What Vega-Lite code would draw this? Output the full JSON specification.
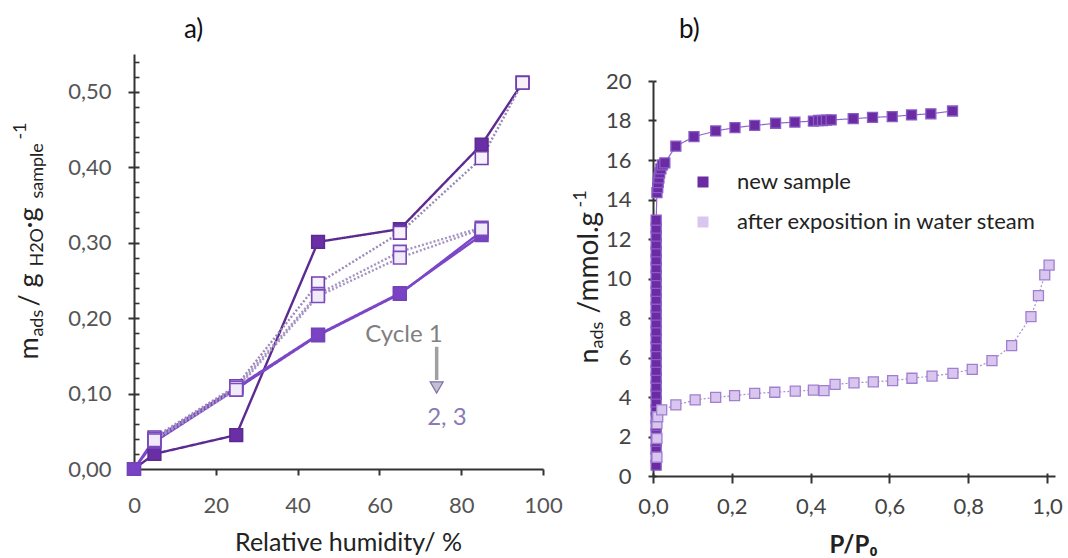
{
  "$schema": "https://vega.github.io/schema/vega-lite/v6.json",
  "autosize": {"type": "none"},
  "padding": {"left": 134, "top": 54, "right": 0, "bottom": 82},
  "width": 934,
  "height": 422,
  "background": "white",
  "config": {
    "view": {"stroke": null},
    "font": "Lato",
    "axis": {"labelFlush": false},
    "locale": {"number": {"decimal": ",", "thousands": ".", "grouping": [3], "currency": ["", " €"]}}
  },
  "datasets": {
    "a": [
      {"rh": 0, "m": 0, "s": "c1a", "t": "ads"},
      {"rh": 5, "m": 0.02, "s": "c1a", "t": "ads"},
      {"rh": 25, "m": 0.045, "s": "c1a", "t": "ads"},
      {"rh": 45, "m": 0.301, "s": "c1a", "t": "ads"},
      {"rh": 65, "m": 0.318, "s": "c1a", "t": "ads"},
      {"rh": 85, "m": 0.43, "s": "c1a", "t": "ads"},
      {"rh": 95, "m": 0.512, "s": "c1a", "t": "ads"},
      {"rh": 0, "m": 0, "s": "c2a", "t": "ads"},
      {"rh": 5, "m": 0.036, "s": "c2a", "t": "ads"},
      {"rh": 25, "m": 0.106, "s": "c2a", "t": "ads"},
      {"rh": 45, "m": 0.177, "s": "c2a", "t": "ads"},
      {"rh": 65, "m": 0.232, "s": "c2a", "t": "ads"},
      {"rh": 85, "m": 0.315, "s": "c2a", "t": "ads"},
      {"rh": 0, "m": 0, "s": "c3a", "t": "ads"},
      {"rh": 5, "m": 0.04, "s": "c3a", "t": "ads"},
      {"rh": 25, "m": 0.108, "s": "c3a", "t": "ads"},
      {"rh": 45, "m": 0.178, "s": "c3a", "t": "ads"},
      {"rh": 65, "m": 0.233, "s": "c3a", "t": "ads"},
      {"rh": 85, "m": 0.31, "s": "c3a", "t": "ads"},
      {"rh": 95, "m": 0.512, "s": "c1d", "t": "des"},
      {"rh": 85, "m": 0.412, "s": "c1d", "t": "des"},
      {"rh": 65, "m": 0.313, "s": "c1d", "t": "des"},
      {"rh": 45, "m": 0.246, "s": "c1d", "t": "des"},
      {"rh": 25, "m": 0.11, "s": "c1d", "t": "des"},
      {"rh": 5, "m": 0.042, "s": "c1d", "t": "des"},
      {"rh": 85, "m": 0.32, "s": "c2d", "t": "des"},
      {"rh": 65, "m": 0.288, "s": "c2d", "t": "des"},
      {"rh": 45, "m": 0.232, "s": "c2d", "t": "des"},
      {"rh": 25, "m": 0.108, "s": "c2d", "t": "des"},
      {"rh": 5, "m": 0.04, "s": "c2d", "t": "des"},
      {"rh": 85, "m": 0.318, "s": "c3d", "t": "des"},
      {"rh": 65, "m": 0.28, "s": "c3d", "t": "des"},
      {"rh": 45, "m": 0.229, "s": "c3d", "t": "des"},
      {"rh": 25, "m": 0.105, "s": "c3d", "t": "des"},
      {"rh": 5, "m": 0.038, "s": "c3d", "t": "des"}
    ],
    "b": [
      {"i": 1, "p": 0.008, "n": 0.55, "s": "new sample"},
      {"i": 2, "p": 0.008, "n": 0.95, "s": "new sample"},
      {"i": 3, "p": 0.008, "n": 1.35, "s": "new sample"},
      {"i": 4, "p": 0.008, "n": 1.75, "s": "new sample"},
      {"i": 5, "p": 0.008, "n": 2.15, "s": "new sample"},
      {"i": 6, "p": 0.008, "n": 2.55, "s": "new sample"},
      {"i": 7, "p": 0.008, "n": 2.95, "s": "new sample"},
      {"i": 8, "p": 0.008, "n": 3.35, "s": "new sample"},
      {"i": 9, "p": 0.008, "n": 3.75, "s": "new sample"},
      {"i": 10, "p": 0.008, "n": 4.15, "s": "new sample"},
      {"i": 11, "p": 0.008, "n": 4.55, "s": "new sample"},
      {"i": 12, "p": 0.008, "n": 4.95, "s": "new sample"},
      {"i": 13, "p": 0.008, "n": 5.35, "s": "new sample"},
      {"i": 14, "p": 0.008, "n": 5.75, "s": "new sample"},
      {"i": 15, "p": 0.008, "n": 6.15, "s": "new sample"},
      {"i": 16, "p": 0.008, "n": 6.55, "s": "new sample"},
      {"i": 17, "p": 0.008, "n": 6.95, "s": "new sample"},
      {"i": 18, "p": 0.008, "n": 7.35, "s": "new sample"},
      {"i": 19, "p": 0.008, "n": 7.75, "s": "new sample"},
      {"i": 20, "p": 0.008, "n": 8.15, "s": "new sample"},
      {"i": 21, "p": 0.008, "n": 8.55, "s": "new sample"},
      {"i": 22, "p": 0.008, "n": 8.95, "s": "new sample"},
      {"i": 23, "p": 0.008, "n": 9.35, "s": "new sample"},
      {"i": 24, "p": 0.008, "n": 9.75, "s": "new sample"},
      {"i": 25, "p": 0.008, "n": 10.15, "s": "new sample"},
      {"i": 26, "p": 0.008, "n": 10.55, "s": "new sample"},
      {"i": 27, "p": 0.008, "n": 10.95, "s": "new sample"},
      {"i": 28, "p": 0.008, "n": 11.35, "s": "new sample"},
      {"i": 29, "p": 0.008, "n": 11.75, "s": "new sample"},
      {"i": 30, "p": 0.008, "n": 12.15, "s": "new sample"},
      {"i": 31, "p": 0.008, "n": 12.55, "s": "new sample"},
      {"i": 32, "p": 0.008, "n": 12.95, "s": "new sample"},
      {"i": 33, "p": 0.01, "n": 14.35, "s": "new sample"},
      {"i": 34, "p": 0.012, "n": 14.6, "s": "new sample"},
      {"i": 35, "p": 0.013, "n": 14.85, "s": "new sample"},
      {"i": 36, "p": 0.015, "n": 15.1, "s": "new sample"},
      {"i": 37, "p": 0.017, "n": 15.35, "s": "new sample"},
      {"i": 38, "p": 0.02, "n": 15.55, "s": "new sample"},
      {"i": 39, "p": 0.024, "n": 15.75, "s": "new sample"},
      {"i": 40, "p": 0.03, "n": 15.85, "s": "new sample"},
      {"i": 41, "p": 0.058, "n": 16.7, "s": "new sample"},
      {"i": 42, "p": 0.104, "n": 17.18, "s": "new sample"},
      {"i": 43, "p": 0.159, "n": 17.47, "s": "new sample"},
      {"i": 44, "p": 0.208, "n": 17.64, "s": "new sample"},
      {"i": 45, "p": 0.258, "n": 17.75, "s": "new sample"},
      {"i": 46, "p": 0.311, "n": 17.86, "s": "new sample"},
      {"i": 47, "p": 0.36, "n": 17.92, "s": "new sample"},
      {"i": 48, "p": 0.407, "n": 17.97, "s": "new sample"},
      {"i": 49, "p": 0.42, "n": 18.0, "s": "new sample"},
      {"i": 50, "p": 0.43, "n": 18.0, "s": "new sample"},
      {"i": 51, "p": 0.44, "n": 18.02, "s": "new sample"},
      {"i": 52, "p": 0.452, "n": 18.03, "s": "new sample"},
      {"i": 53, "p": 0.508, "n": 18.09, "s": "new sample"},
      {"i": 54, "p": 0.557, "n": 18.16, "s": "new sample"},
      {"i": 55, "p": 0.607, "n": 18.2, "s": "new sample"},
      {"i": 56, "p": 0.656, "n": 18.28, "s": "new sample"},
      {"i": 57, "p": 0.705, "n": 18.34, "s": "new sample"},
      {"i": 58, "p": 0.76, "n": 18.48, "s": "new sample"},
      {"i": 1, "p": 0.01, "n": 0.95, "s": "after exposition in water steam"},
      {"i": 2, "p": 0.01, "n": 1.9, "s": "after exposition in water steam"},
      {"i": 3, "p": 0.01, "n": 2.65, "s": "after exposition in water steam"},
      {"i": 4, "p": 0.012, "n": 3.0, "s": "after exposition in water steam"},
      {"i": 5, "p": 0.022, "n": 3.35, "s": "after exposition in water steam"},
      {"i": 6, "p": 0.058, "n": 3.6, "s": "after exposition in water steam"},
      {"i": 7, "p": 0.107, "n": 3.85, "s": "after exposition in water steam"},
      {"i": 8, "p": 0.159, "n": 3.98, "s": "after exposition in water steam"},
      {"i": 9, "p": 0.207, "n": 4.07, "s": "after exposition in water steam"},
      {"i": 10, "p": 0.258, "n": 4.18, "s": "after exposition in water steam"},
      {"i": 11, "p": 0.309, "n": 4.24, "s": "after exposition in water steam"},
      {"i": 12, "p": 0.361, "n": 4.3, "s": "after exposition in water steam"},
      {"i": 13, "p": 0.407, "n": 4.35, "s": "after exposition in water steam"},
      {"i": 14, "p": 0.434, "n": 4.32, "s": "after exposition in water steam"},
      {"i": 15, "p": 0.462, "n": 4.64, "s": "after exposition in water steam"},
      {"i": 16, "p": 0.51, "n": 4.72, "s": "after exposition in water steam"},
      {"i": 17, "p": 0.559, "n": 4.77, "s": "after exposition in water steam"},
      {"i": 18, "p": 0.608, "n": 4.83, "s": "after exposition in water steam"},
      {"i": 19, "p": 0.657, "n": 4.95, "s": "after exposition in water steam"},
      {"i": 20, "p": 0.708, "n": 5.06, "s": "after exposition in water steam"},
      {"i": 21, "p": 0.761, "n": 5.2, "s": "after exposition in water steam"},
      {"i": 22, "p": 0.81, "n": 5.4, "s": "after exposition in water steam"},
      {"i": 23, "p": 0.86, "n": 5.84, "s": "after exposition in water steam"},
      {"i": 24, "p": 0.91, "n": 6.6, "s": "after exposition in water steam"},
      {"i": 25, "p": 0.959, "n": 8.07, "s": "after exposition in water steam"},
      {"i": 26, "p": 0.978, "n": 9.13, "s": "after exposition in water steam"},
      {"i": 27, "p": 0.994, "n": 10.18, "s": "after exposition in water steam"},
      {"i": 28, "p": 1.005, "n": 10.68, "s": "after exposition in water steam"}
    ]
  },
  "resolve": {
    "scale": {"x": "independent", "y": "independent", "fill": "independent", "stroke": "independent", "strokeDash": "independent"},
    "axis": {"x": "independent", "y": "independent"},
    "legend": {"fill": "independent", "stroke": "independent"}
  },
  "layer": [
    {
      "resolve": {"axis": {"x": "independent", "y": "independent"}, "scale": {"stroke": "independent"}},
      "layer": [
        {
          "data": {"name": "a"},
          "mark": {"type": "line", "strokeWidth": 2.4},
          "encoding": {
            "x": {"field": "rh", "type": "quantitative", "scale": {"domain": [0, 100], "range": [0, 409], "nice": false, "zero": false},
              "axis": {"orient": "bottom", "offset": -7, "values": [0, 20, 40, 60, 80, 100], "format": "d", "tickSize": 6, "tickWidth": 2, "tickColor": "#333", "domainColor": "#333", "domainWidth": 2, "grid": false,
                "labelFont": "Lato", "labelFontSize": 22, "labelColor": "#555", "labelPadding": 20, "labelFlush": false,
                "title": "Relative humidity/ %", "titleFont": "Lato", "titleFontSize": 25, "titleFontWeight": "normal", "titleColor": "#222", "titleX": 214, "titleY": 81, "titleBaseline": "alphabetic", "titleAlign": "center"}},
            "y": {"field": "m", "type": "quantitative", "scale": {"domain": [0, 0.55], "range": [415, 0], "nice": false, "zero": false},
              "axis": {"orient": "left", "values": [0, 0.1, 0.2, 0.3, 0.4, 0.5], "format": ".2f", "tickSize": 6, "tickWidth": 2, "tickColor": "#333", "domainColor": "#333", "domainWidth": 2, "grid": false,
                "labelFont": "Lato", "labelFontSize": 22, "labelColor": "#555", "labelPadding": 17, "labelFlush": false, "title": null}},
            "stroke": {"field": "s", "type": "nominal", "legend": null,
              "scale": {"domain": ["c1a", "c2a", "c3a", "c1d", "c2d", "c3d"], "range": ["#5c2a91", "#7b46c7", "#7b46c7", "#9a88b8", "#a594c2", "#a594c2"]}},
            "strokeDash": {"field": "t", "type": "nominal", "legend": null,
              "scale": {"domain": ["ads", "des"], "range": [[1, 0], [2, 2]]}}
          }
        },
        {
          "data": {"name": "a"},
          "mark": {"type": "point", "shape": "square", "filled": true, "size": 160, "strokeWidth": 1.6, "opacity": 1},
          "encoding": {
            "x": {"field": "rh", "type": "quantitative", "axis": null},
            "y": {"field": "m", "type": "quantitative",
              "axis": {"orient": "left", "values": [0, 0.1, 0.2, 0.3, 0.4, 0.5], "tickSize": -5, "tickWidth": 2, "tickColor": "#333", "labels": false, "domain": false, "grid": false, "title": null}},
            "fill": {"field": "s", "type": "nominal", "legend": null,
              "scale": {"domain": ["c1a", "c2a", "c3a", "c1d", "c2d", "c3d"], "range": ["#6a2fa6", "#7a42c4", "#7a42c4", "#f6f1fb", "#f1eaf8", "#f1eaf8"]}},
            "stroke": {"field": "s", "type": "nominal", "legend": null,
              "scale": {"domain": ["c1a", "c2a", "c3a", "c1d", "c2d", "c3d"], "range": ["#5c2a91", "#7344b8", "#7344b8", "#7040b0", "#7a4bbd", "#7a4bbd"]}}
          }
        },
        {
          "data": {"values": [{}]},
          "mark": {"type": "text", "font": "Lato", "fontSize": 24, "color": "#808080", "align": "center", "baseline": "middle"},
          "encoding": {
            "x": {"datum": 66, "type": "quantitative", "axis": null},
            "y": {"datum": 0.178, "type": "quantitative",
              "axis": {"orient": "left", "values": [0.02, 0.04, 0.06, 0.08, 0.12, 0.14, 0.16, 0.18, 0.22, 0.24, 0.26, 0.28, 0.32, 0.34, 0.36, 0.38, 0.42, 0.44, 0.46, 0.48, 0.52, 0.54], "tickSize": -5, "tickWidth": 1.6, "tickColor": "#333", "labels": false, "domain": false, "grid": false, "title": null}},
            "text": {"value": "Cycle 1"}
          }
        },
        {
          "data": {"values": [{}]},
          "mark": {"type": "text", "font": "Lato", "fontSize": 24, "color": "#8a7ab8", "align": "center", "baseline": "middle"},
          "encoding": {
            "x": {"datum": 76.5, "type": "quantitative", "axis": null},
            "y": {"datum": 0.068, "type": "quantitative", "axis": null},
            "text": {"value": "2, 3"}
          }
        },
        {
          "data": {"values": [{}]},
          "mark": {"type": "rule", "strokeWidth": 3.5, "color": "#a0a0a0"},
          "encoding": {
            "x": {"datum": 74, "type": "quantitative", "axis": null},
            "y": {"datum": 0.162, "type": "quantitative", "axis": null},
            "y2": {"datum": 0.118}
          }
        },
        {
          "data": {"values": [{}]},
          "mark": {"type": "point", "shape": "triangle-down", "filled": true, "size": 170, "fill": "#c4c0d0", "stroke": "#7f6fae", "strokeWidth": 1.2, "opacity": 1},
          "encoding": {
            "x": {"datum": 74, "type": "quantitative", "axis": null},
            "y": {"datum": 0.108, "type": "quantitative", "axis": null}
          }
        },
        {"data": {"values": [{}]}, "mark": {"type": "text", "align": "left", "baseline": "alphabetic", "font": "Lato", "fontSize": 26, "color": "#111"},
          "encoding": {"x": {"datum": 12.2, "type": "quantitative", "axis": null}, "y": {"datum": 0.571, "type": "quantitative", "axis": null}, "text": {"value": "a)"}}},
        {"data": {"values": [{}]}, "mark": {"type": "text", "angle": 270, "align": "left", "baseline": "alphabetic", "font": "Lato", "fontSize": 27, "color": "#222", "dx": 0, "dy": 0},
          "encoding": {"x": {"datum": -23.5, "type": "quantitative", "axis": null}, "y": {"datum": 0.145, "type": "quantitative", "axis": null}, "text": {"value": "m"}}},
        {"data": {"values": [{}]}, "mark": {"type": "text", "angle": 270, "align": "left", "baseline": "alphabetic", "font": "Lato", "fontSize": 18, "color": "#222", "dx": 23, "dy": 5},
          "encoding": {"x": {"datum": -23.5, "type": "quantitative", "axis": null}, "y": {"datum": 0.145, "type": "quantitative", "axis": null}, "text": {"value": "ads"}}},
        {"data": {"values": [{}]}, "mark": {"type": "text", "angle": 270, "align": "left", "baseline": "alphabetic", "font": "Lato", "fontSize": 27, "color": "#222", "dx": 53, "dy": 0},
          "encoding": {"x": {"datum": -23.5, "type": "quantitative", "axis": null}, "y": {"datum": 0.145, "type": "quantitative", "axis": null}, "text": {"value": "/"}}},
        {"data": {"values": [{}]}, "mark": {"type": "text", "angle": 270, "align": "left", "baseline": "alphabetic", "font": "Lato", "fontSize": 27, "color": "#222", "dx": 72, "dy": 0},
          "encoding": {"x": {"datum": -23.5, "type": "quantitative", "axis": null}, "y": {"datum": 0.145, "type": "quantitative", "axis": null}, "text": {"value": "g"}}},
        {"data": {"values": [{}]}, "mark": {"type": "text", "angle": 270, "align": "left", "baseline": "alphabetic", "font": "Lato", "fontSize": 18, "color": "#222", "dx": 93, "dy": 5},
          "encoding": {"x": {"datum": -23.5, "type": "quantitative", "axis": null}, "y": {"datum": 0.145, "type": "quantitative", "axis": null}, "text": {"value": "H2O"}}},
        {"data": {"values": [{}]}, "mark": {"type": "text", "angle": 270, "align": "left", "baseline": "alphabetic", "font": "Lato", "fontSize": 27, "color": "#222", "dx": 131, "dy": 0},
          "encoding": {"x": {"datum": -23.5, "type": "quantitative", "axis": null}, "y": {"datum": 0.145, "type": "quantitative", "axis": null}, "text": {"value": "·g"}}},
        {"data": {"values": [{}]}, "mark": {"type": "text", "angle": 270, "align": "left", "baseline": "alphabetic", "font": "Lato", "fontSize": 18, "color": "#222", "dx": 161, "dy": 5},
          "encoding": {"x": {"datum": -23.5, "type": "quantitative", "axis": null}, "y": {"datum": 0.145, "type": "quantitative", "axis": null}, "text": {"value": "sample"}}},
        {"data": {"values": [{}]}, "mark": {"type": "text", "angle": 270, "align": "left", "baseline": "alphabetic", "font": "Lato", "fontSize": 18, "color": "#222", "dx": 220, "dy": -12},
          "encoding": {"x": {"datum": -23.5, "type": "quantitative", "axis": null}, "y": {"datum": 0.145, "type": "quantitative", "axis": null}, "text": {"value": "-1"}}}
      ]
    },
    {
      "resolve": {"axis": {"x": "independent", "y": "independent"}, "scale": {"stroke": "independent", "strokeDash": "independent"}},
      "layer": [
        {
          "data": {"name": "b"},
          "mark": {"type": "line", "strokeWidth": 1.2},
          "encoding": {
            "x": {"field": "p", "type": "quantitative", "scale": {"domain": [0, 1.02], "range": [519, 921], "nice": false, "zero": false},
              "axis": {"orient": "bottom", "values": [0, 0.2, 0.4, 0.6, 0.8, 1.0], "format": ".1f", "tickSize": 7, "tickWidth": 2, "tickColor": "#333", "domainColor": "#333", "domainWidth": 2, "grid": false,
                "labelFont": "Lato", "labelFontSize": 22, "labelColor": "#444", "labelPadding": 13, "labelFlush": false,
                "title": "P/P₀", "titleFont": "Lato", "titleFontSize": 24, "titleFontWeight": "bold", "titleColor": "#222", "titleX": 719, "titleY": 76, "titleBaseline": "alphabetic", "titleAlign": "center"}},
            "y": {"field": "n", "type": "quantitative", "scale": {"domain": [0, 20], "range": [422, 27], "nice": false, "zero": false},
              "axis": {"orient": "left", "offset": -519, "values": [0, 2, 4, 6, 8, 10, 12, 14, 16, 18, 20], "format": "d", "tickSize": 5, "tickWidth": 2, "tickColor": "#333", "domainColor": "#333", "domainWidth": 2, "grid": false,
                "labelFont": "Lato", "labelFontSize": 22, "labelColor": "#444", "labelPadding": 17, "labelFlush": false, "title": null}},
            "order": {"field": "i", "type": "quantitative"},
            "stroke": {"field": "s", "type": "nominal", "legend": null,
              "scale": {"domain": ["new sample", "after exposition in water steam"], "range": ["#8f66cc", "#a890cc"]}},
            "strokeDash": {"field": "s", "type": "nominal", "legend": null,
              "scale": {"domain": ["new sample", "after exposition in water steam"], "range": [[1, 0], [2, 2]]}}
          }
        },
        {
          "data": {"name": "b"},
          "mark": {"type": "point", "shape": "square", "filled": true, "size": 100, "strokeWidth": 1.3, "opacity": 1},
          "encoding": {
            "x": {"field": "p", "type": "quantitative",
              "axis": {"orient": "bottom", "values": [0, 0.2, 0.4, 0.6, 0.8, 1.0], "tickSize": -3, "tickWidth": 2, "tickColor": "#333", "labels": false, "domain": false, "grid": false, "title": null}},
            "y": {"field": "n", "type": "quantitative",
              "axis": {"orient": "left", "offset": -519, "values": [0, 2, 4, 6, 8, 10, 12, 14, 16, 18, 20], "tickSize": -3, "tickWidth": 2, "tickColor": "#333", "labels": false, "domain": false, "grid": false, "title": null}},
            "fill": {"field": "s", "type": "nominal",
              "scale": {"domain": ["new sample", "after exposition in water steam"], "range": ["#6b2ba3", "#d8c6ef"]},
              "legend": {"title": null, "orient": "none", "legendX": 558, "legendY": 117, "padding": 0, "rowPadding": 18, "labelOffset": 23, "symbolSize": 121,
                "labelFont": "Lato", "labelFontSize": 22, "labelColor": "#222", "labelLimit": 500,
                "encode": {"symbols": {"update": {
                  "shape": {"value": "M-1,0H-0.5M0.5,0H1M-0.5,-0.5H0.5V0.5H-0.5Z"},
                  "size": {"value": 121},
                  "fill": {"signal": "datum.value === 'new sample' ? '#6b2ba3' : '#d8c6ef'"},
                  "stroke": {"signal": "datum.value === 'new sample' ? '#8a5cc8' : '#a07fd0'"},
                  "strokeWidth": {"value": 1.4},
                  "opacity": {"value": 1}
                }}}}},
            "stroke": {"field": "s", "type": "nominal", "legend": null,
              "scale": {"domain": ["new sample", "after exposition in water steam"], "range": ["#8a5cc8", "#a07fd0"]}}
          }
        },
        {"data": {"values": [{}]}, "mark": {"type": "text", "align": "left", "baseline": "alphabetic", "font": "Lato", "fontSize": 26, "color": "#111"},
          "encoding": {"x": {"datum": 0.066, "type": "quantitative", "axis": null}, "y": {"datum": 22.18, "type": "quantitative", "axis": null}, "text": {"value": "b)"}}},
        {"data": {"values": [{}]}, "mark": {"type": "text", "angle": 270, "align": "left", "baseline": "alphabetic", "font": "Lato", "fontSize": 27, "color": "#222", "dx": 0, "dy": 0},
          "encoding": {"x": {"datum": -0.14, "type": "quantitative", "axis": null}, "y": {"datum": 5.7, "type": "quantitative", "axis": null}, "text": {"value": "n"}}},
        {"data": {"values": [{}]}, "mark": {"type": "text", "angle": 270, "align": "left", "baseline": "alphabetic", "font": "Lato", "fontSize": 18, "color": "#222", "dx": 15, "dy": 5},
          "encoding": {"x": {"datum": -0.14, "type": "quantitative", "axis": null}, "y": {"datum": 5.7, "type": "quantitative", "axis": null}, "text": {"value": "ads"}}},
        {"data": {"values": [{}]}, "mark": {"type": "text", "angle": 270, "align": "left", "baseline": "alphabetic", "font": "Lato", "fontSize": 28, "color": "#222", "dx": 50, "dy": 0},
          "encoding": {"x": {"datum": -0.14, "type": "quantitative", "axis": null}, "y": {"datum": 5.7, "type": "quantitative", "axis": null}, "text": {"value": "/mmol.g"}}},
        {"data": {"values": [{}]}, "mark": {"type": "text", "angle": 270, "align": "left", "baseline": "alphabetic", "font": "Lato", "fontSize": 18, "color": "#222", "dx": 156, "dy": -12},
          "encoding": {"x": {"datum": -0.14, "type": "quantitative", "axis": null}, "y": {"datum": 5.7, "type": "quantitative", "axis": null}, "text": {"value": "-1"}}}
      ]
    }
  ]
}
